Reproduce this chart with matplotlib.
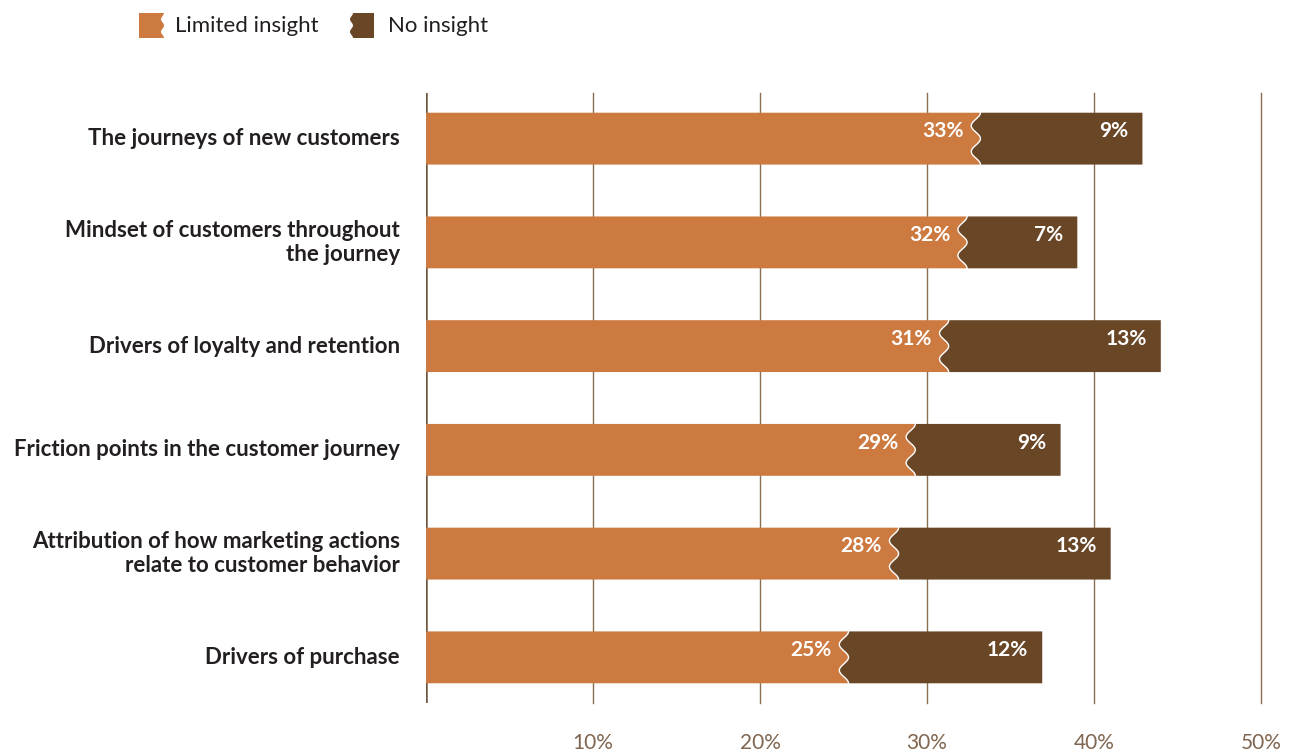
import numpy as np
import matplotlib.pyplot as plt
from matplotlib.patches import Polygon

plt.rcParams['font.family'] = ['Lato', 'DejaVu Sans']

categories = [
    "The journeys of new customers",
    "Mindset of customers throughout\nthe journey",
    "Drivers of loyalty and retention",
    "Friction points in the customer journey",
    "Attribution of how marketing actions\nrelate to customer behavior",
    "Drivers of purchase",
]
limited = [33.2, 32.4, 31.3, 29.3, 28.3, 25.3]
no_insight = [9.7, 6.6, 12.7, 8.7, 12.7, 11.6]
limited_labels = ["33%", "32%", "31%", "29%", "28%", "25%"]
no_labels = ["9%", "7%", "13%", "9%", "13%", "12%"]
ticks = [10, 20, 30, 40, 50]

c_lim = "#CD7A40"
c_no = "#694626"
c_grid = "#8A6E52"

fig = plt.figure(figsize=(12.95, 7.56), dpi=100)
ax = fig.add_axes([426 / 1295, 53 / 756, (1261 - 426) / 1295, 610 / 756])

h = 0.5
amp = 0.55


def wave(edge, y0, y1, n=60):
    t = np.linspace(0, 1, n)
    x = edge - amp * (1 - np.cos(4 * np.pi * t)) / 2
    y = y0 + (y1 - y0) * t
    return x, y


for i, (a, b) in enumerate(zip(limited, no_insight)):
    top, bot = i - h / 2, i + h / 2
    wx, wy = wave(a, top, bot)
    left = np.column_stack([np.r_[0, wx, 0], np.r_[top, wy, bot]])
    ax.add_patch(Polygon(left, closed=True, fc=c_lim, ec="none", zorder=3))
    right = np.column_stack([np.r_[wx, a + b, a + b], np.r_[wy, bot, top]])
    ax.add_patch(Polygon(right, closed=True, fc=c_no, ec="none", zorder=3))
    ax.plot(wx, wy, color="white", lw=1.0, zorder=4)
    ax.text(a - 1.0, i - 0.07, limited_labels[i], ha="right", va="center", color="white",
            fontsize=15, fontweight="bold", zorder=5)
    ax.text(a + b - 0.85, i - 0.07, no_labels[i], ha="right", va="center", color="white",
            fontsize=15, fontweight="bold", zorder=5)
    ax.text(-1.55, i, categories[i], ha="right", va="center", color="#231F20",
            fontsize=16, fontweight="bold", linespacing=1.15)

for t in ticks:
    ax.axvline(t, color=c_grid, lw=1, zorder=1, clip_on=False)
    ax.text(t, 5.44 + 0.385, f"{t}%", ha="center", va="center", color="#806650",
            fontsize=15)
ax.axvline(0, color="#6E5840", lw=1.8, zorder=2)

ax.set_xlim(0, 50)
ax.set_ylim(5.44, -0.44)
ax.axis("off")

# legend
lg = fig.add_axes([0, 0, 1, 1], zorder=-1)
lg.set_xlim(0, 1295)
lg.set_ylim(756, 0)
lg.axis("off")
ty = np.linspace(0, 1, 40)
wv = 3 * (1 - np.cos(4 * np.pi * ty)) / 2
ly0, ly1 = 13, 38
x0, x1 = 139, 164
pts = np.column_stack([np.r_[x0, x1 - wv, x0], np.r_[ly0, ly0 + (ly1 - ly0) * ty, ly1]])
lg.add_patch(Polygon(pts, closed=True, fc=c_lim, ec="none"))
lg.text(175, 25.5, "Limited insight", ha="left", va="center", fontsize=16, color="#231F20")
x0, x1 = 350, 374
pts = np.column_stack([np.r_[x0 + 3 - wv, x1, x1], np.r_[ly0 + (ly1 - ly0) * ty, ly1, ly0]])
lg.add_patch(Polygon(pts, closed=True, fc=c_no, ec="none"))
lg.text(388, 25.5, "No insight", ha="left", va="center", fontsize=16, color="#231F20")

fig.savefig("out.png", dpi=100)
